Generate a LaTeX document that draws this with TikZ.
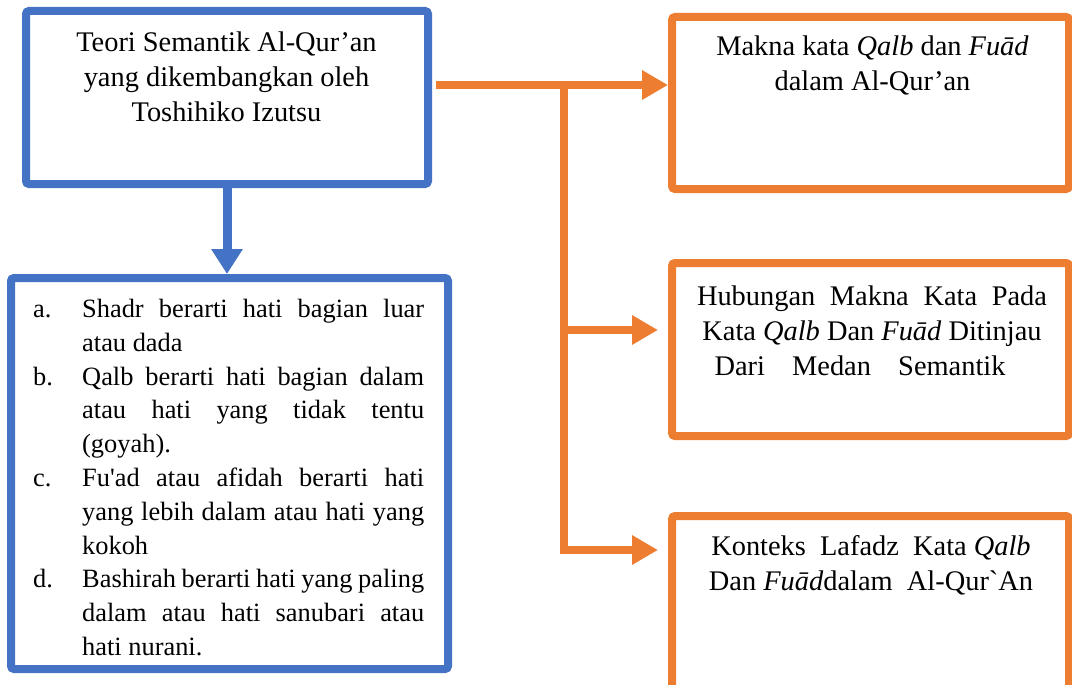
\documentclass[tikz,border=0pt]{standalone}
\usepackage{fontspec}
\setmainfont{Liberation Serif}
\usepackage{xcolor}
\usepackage{tikz}
\usetikzlibrary{arrows.meta,positioning,calc}
\definecolor{kbiru}{HTML}{4472C4}
\definecolor{koranye}{HTML}{ED7D31}
\newcommand{\butir}[2]{\noindent\hangindent=49pt\hangafter=1\makebox[49pt][l]{#1}#2\par}

\begin{document}
\begin{tikzpicture}[x=1pt,y=-1pt,>=Latex]
\tikzset{
  bluebox/.style={draw=kbiru,fill=white,line width=8pt,rounded corners=3pt,inner sep=0pt},
  orangebox/.style={draw=koranye,fill=white,line width=8pt,rounded corners=3pt,inner sep=0pt},
  judul/.style={font=\fontsize{28.4}{35}\selectfont,align=center,inner sep=0pt,anchor=north},
  isi/.style={font=\fontsize{26.4}{33.8}\selectfont,text width=391pt,align=justify,inner sep=0pt,anchor=north west},
  alirbiru/.style={draw=kbiru,line width=9pt,-{Triangle[length=25pt,width=30pt]}},
  aliroranye/.style={draw=koranye,line width=8pt,-{Triangle[length=26pt,width=28pt]}}
}
\useasboundingbox (0,0) rectangle (1072,685);

\node[bluebox,minimum width=402pt,minimum height=173pt] (T) at (227,97.5) {};
\node[bluebox,minimum width=437pt,minimum height=391pt] (L) at (229.5,473.5) {};
\node[orangebox,minimum width=397pt,minimum height=172pt] (K1) at (870.5,103) {};
\node[orangebox,minimum width=397pt,minimum height=173pt] (K2) at (870.5,349.5) {};
\node[orangebox,minimum width=397pt,minimum height=173pt] (K3) at (870.5,602.5) {};

\node[judul] (Tt) at (226.5,31.6) {Teori Semantik Al-Qur’an\\yang dikembangkan oleh\\Toshihiko Izutsu};
\node[judul] (K1t) at (872.5,35.6) {Makna kata \textit{Qalb} dan \textit{Fuād}\\dalam Al-Qur’an};
\node[judul] (K2t) at (872,285.6) {\makebox[350pt][s]{Hubungan Makna Kata Pada}\\Kata \textit{Qalb} Dan \textit{Fuād} Ditinjau\\\hspace*{-24pt}\makebox[291pt][s]{Dari Medan Semantik}};
\node[judul] (K3t) at (871,535.6) {Konteks\ \ Lafadz\ \ Kata \textit{Qalb}\\Dan \textit{Fuād}dalam\ \ Al-Qur\textasciigrave An};

\node[isi] (Lt) at (33,299) {\tolerance=10000\hbadness=10000\hyphenpenalty=10000\parskip=0pt%
\butir{a.}{Shadr berarti hati bagian luar\linebreak atau dada}%
\butir{b.}{Qalb berarti hati bagian dalam\linebreak atau hati yang tidak tentu\linebreak (goyah).}%
\butir{c.}{Fu\textquotesingle ad atau afidah berarti hati\linebreak yang lebih dalam atau hati yang\linebreak kokoh}%
\butir{d.}{Bashirah berarti hati yang paling\linebreak dalam atau hati sanubari atau\linebreak hati nurani.}};

\draw[alirbiru] (T.south) -- (T.south |- L.north);

\coordinate (o0) at (436,85);
\coordinate (cab) at (564,85);
\coordinate (u2) at (658,330);
\coordinate (u3) at (658,550);
\draw[aliroranye] (o0) -- (o0 -| K1.west);
\draw[aliroranye] (cab |- u2) -- (u2);
\draw[aliroranye] (cab) |- (u3);
\end{tikzpicture}
\end{document}
